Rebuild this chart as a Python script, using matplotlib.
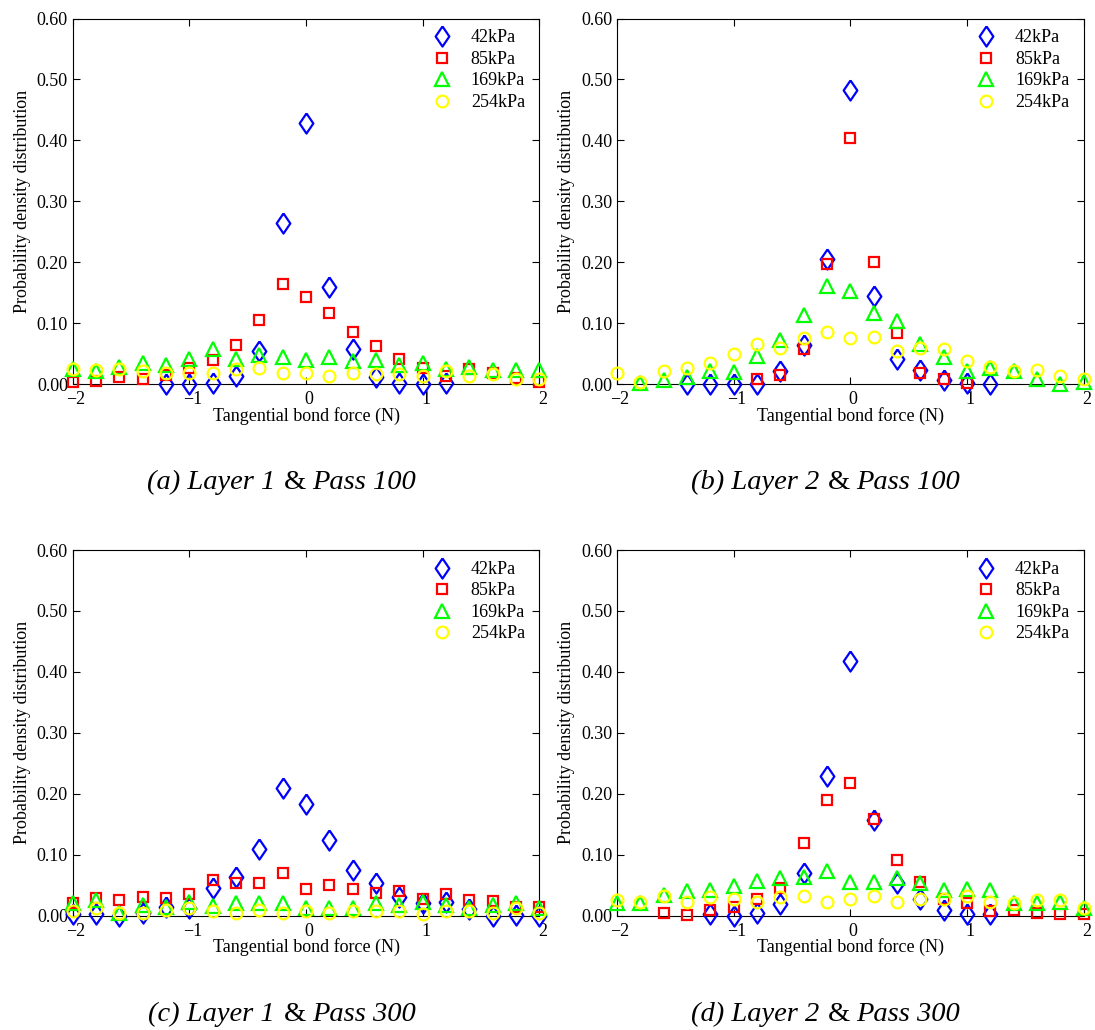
import matplotlib
matplotlib.use('Agg')
import matplotlib.pyplot as plt
import matplotlib.transforms as mtransforms
import numpy as np

plt.rcParams['font.family'] = ['Liberation Serif', 'DejaVu Serif']

# tangential bond force bins (N)
force = np.round(np.arange(-2.0, 2.01, 0.2), 1)
nan = np.nan

labels = ['42kPa', '85kPa', '169kPa', '254kPa']
captions = ['(a) Layer 1', '(b) Layer 2', '(c) Layer 1', '(d) Layer 2']
passes = ['Pass 100', 'Pass 100', 'Pass 300', 'Pass 300']

# (a) layer 1, pass 100
a_42 = [nan, nan, nan, nan, 0.0, 0.0, 0.002, 0.014, 0.055, 0.264, 0.428,
        0.159, 0.057, 0.011, 0.002, 0.0, 0.002, nan, nan, nan, nan]
a_85 = [0.003, 0.005, 0.011, 0.008, 0.015, 0.027, 0.039, 0.064, 0.106, 0.164, 0.143,
        0.116, 0.086, 0.062, 0.041, 0.026, 0.013, 0.025, 0.019, 0.010, 0.004]
a_169 = [0.025, 0.022, 0.029, 0.035, 0.032, 0.041, 0.057, 0.041, 0.048, 0.045, 0.040,
         0.045, 0.038, 0.040, 0.032, 0.034, 0.025, 0.029, 0.023, 0.023, 0.023]
a_254 = [0.025, 0.023, 0.025, 0.021, 0.018, 0.018, 0.019, 0.025, 0.027, 0.019, 0.018,
         0.013, 0.018, 0.017, 0.017, 0.014, 0.022, 0.013, 0.016, 0.009, 0.009]

# (b) layer 2, pass 100
b_42 = [nan, nan, nan, 0.0, 0.0, 0.001, 0.0, 0.022, 0.064, 0.205, 0.483,
        0.145, 0.042, 0.024, 0.007, 0.002, 0.0, nan, nan, nan, nan]
b_85 = [nan, nan, nan, nan, nan, nan, 0.009, 0.015, 0.057, 0.198, 0.404,
        0.200, 0.084, 0.019, 0.008, 0.002, nan, nan, nan, nan, nan]
b_169 = [nan, 0.002, 0.007, 0.012, 0.022, 0.020, 0.046, 0.073, 0.113, 0.161, 0.153,
         0.116, 0.104, 0.066, 0.044, 0.022, 0.027, 0.022, 0.008, 0.001, 0.004]
b_254 = [0.019, 0.004, 0.022, 0.026, 0.034, 0.049, 0.066, 0.060, 0.076, 0.085, 0.075,
         0.078, 0.054, 0.060, 0.057, 0.038, 0.029, 0.022, 0.023, 0.014, 0.009]

# (c) layer 1, pass 300
c_42 = [0.003, 0.003, 0.0, 0.005, 0.015, 0.013, 0.045, 0.063, 0.110, 0.210, 0.183,
        0.124, 0.075, 0.053, 0.031, 0.021, 0.023, 0.011, 0.0, 0.001, 0.0]
c_85 = [0.020, 0.029, 0.025, 0.031, 0.029, 0.035, 0.058, 0.054, 0.054, 0.070, 0.044,
        0.050, 0.043, 0.038, 0.041, 0.027, 0.035, 0.026, 0.024, 0.015, 0.015]
c_169 = [0.020, 0.025, 0.005, 0.017, 0.015, 0.023, 0.016, 0.020, 0.021, 0.021, 0.013,
         0.013, 0.012, 0.020, 0.017, 0.023, 0.017, 0.012, 0.017, 0.020, 0.012]
c_254 = [0.007, 0.013, 0.005, 0.005, 0.009, 0.012, 0.008, 0.005, 0.009, 0.005, 0.007,
         0.004, 0.008, 0.008, 0.007, 0.003, 0.007, 0.007, 0.004, 0.012, 0.005]

# (d) layer 2, pass 300
d_42 = [nan, nan, nan, nan, 0.003, 0.0, 0.004, 0.019, 0.070, 0.229, 0.418,
        0.157, 0.053, 0.027, 0.010, 0.002, 0.002, nan, nan, nan, nan]
d_85 = [nan, nan, 0.004, 0.001, 0.009, 0.015, 0.027, 0.045, 0.119, 0.189, 0.218,
        0.159, 0.091, 0.055, 0.028, 0.021, 0.007, 0.009, 0.004, 0.002, 0.002]
d_169 = [0.020, 0.020, 0.034, 0.040, 0.042, 0.049, 0.057, 0.061, 0.063, 0.074, 0.056,
         0.056, 0.061, 0.054, 0.042, 0.044, 0.042, 0.021, 0.021, 0.023, 0.012]
d_254 = [0.025, 0.023, 0.032, 0.022, 0.030, 0.028, 0.023, 0.031, 0.033, 0.023, 0.028,
         0.033, 0.023, 0.027, 0.028, 0.033, 0.022, 0.020, 0.025, 0.025, 0.013]

panels = [[a_42, a_85, a_169, a_254],
          [b_42, b_85, b_169, b_254],
          [c_42, c_85, c_169, c_254],
          [d_42, d_85, d_169, d_254]]

# diamond a bit wider than matplotlib's thin 'd'
diamond = [(0, 1), (0.68, 0), (0, -1), (-0.68, 0), (0, 1)]
markers = [diamond, 's', '^', 'o']
sizes = [14.5, 6.5, 10, 8.5]
colors = ['#0000ff', '#ff0000', '#00ff00', '#ffff00']

fig = plt.figure(figsize=(10.95, 10.30), dpi=100)

# axes boxes [left, bottom, width, height] in figure fraction
boxes = [[0.0665, 0.627, 0.426, 0.355],
         [0.5635, 0.627, 0.426, 0.355],
         [0.0665, 0.111, 0.426, 0.355],
         [0.5635, 0.111, 0.426, 0.355]]

# x tick labels sit a little right of their ticks in the original
shift = mtransforms.ScaledTranslation(0.03, 0, fig.dpi_scale_trans)

for i in range(4):
    ax = fig.add_axes(boxes[i])
    for j in range(4):
        ax.plot(force, panels[i][j], linestyle='none', marker=markers[j],
                markersize=sizes[j], markerfacecolor='none',
                markeredgecolor=colors[j], markeredgewidth=1.6,
                label=labels[j], clip_on=False, zorder=3)
    ax.set_xlim(-2, 2)
    ax.set_ylim(0, 0.6)
    ax.set_xticks([-2, -1, 0, 1, 2])
    ax.set_yticks(np.arange(0, 0.61, 0.1))
    ax.set_yticklabels(['%.2f' % v for v in np.arange(0, 0.61, 0.1)])
    ax.tick_params(direction='in', top=True, right=True, labelsize=13,
                   length=5, width=0.8)
    ax.tick_params(axis='x', pad=5)
    for lab in ax.get_xticklabels():
        lab.set_transform(lab.get_transform() + shift)
    ax.set_xlabel('Tangential bond force (N)', size=13, labelpad=-1)
    ax.set_ylabel('Probability density distribution', size=13, labelpad=4)
    ax.legend(loc='upper right', frameon=False, fontsize=13,
              handletextpad=0.6, borderaxespad=0.0, labelspacing=0.25,
              bbox_to_anchor=(0.985, 0.99))

    # caption below each panel: italic text with an upright ampersand
    ax.text(0.433, -0.27, captions[i], transform=ax.transAxes,
            ha='right', va='center', fontsize=20.5, style='italic')
    ax.text(0.476, -0.27, '&', transform=ax.transAxes,
            ha='center', va='center', fontsize=20.5)
    ax.text(0.513, -0.27, passes[i], transform=ax.transAxes,
            ha='left', va='center', fontsize=20.5, style='italic')

plt.savefig('out.png', dpi=100)
